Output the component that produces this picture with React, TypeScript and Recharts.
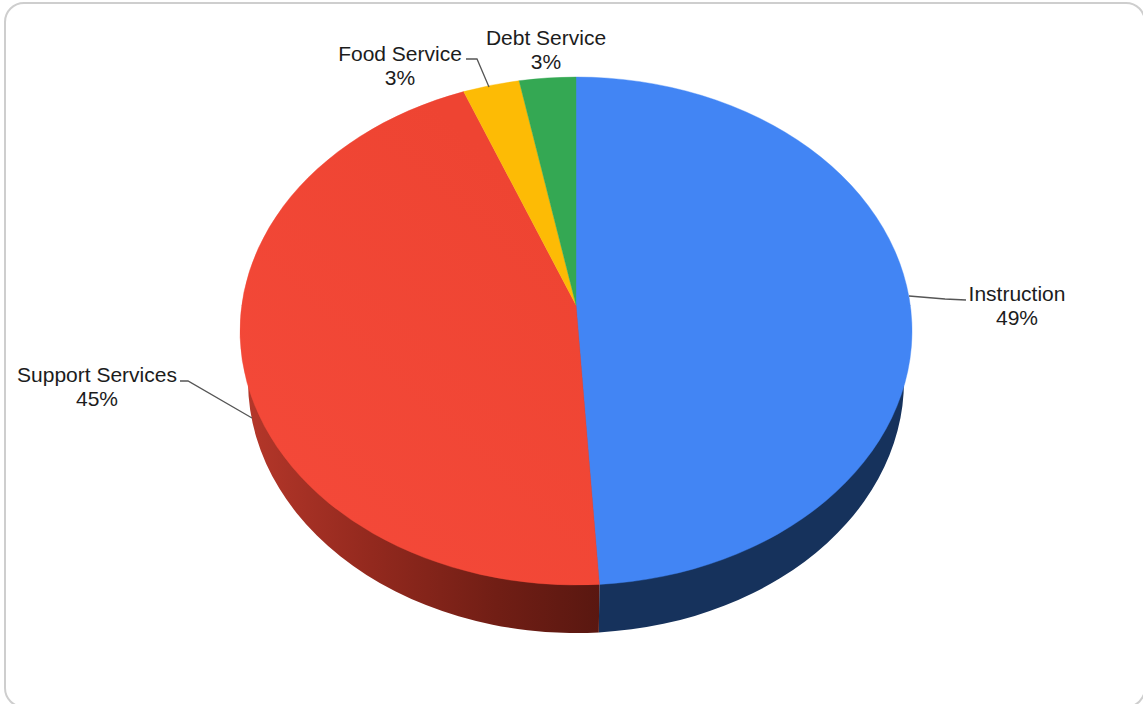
import React from 'react';
import { PieChart, Pie } from 'recharts';

const categories = ['Instruction', 'Support Services', 'Food Service', 'Debt Service'];
const shares = [49, 45, 3, 3];

const faceFills = ['#4285f4', 'url(#supportFace)', '#fdbb05', '#34a853'];
const wallFills = ['#16325c', 'url(#supportWall)', '#7d5e02', '#1a5429'];

// where each label sits, plus its leader line if it has one
const labelLayout = [
  { x: 1017, y: 301, leader: [[909, 296], [945, 299], [966, 300]] },
  { x: 97, y: 382, leader: [[180, 381], [188, 381], [252, 418]] },
  { x: 400, y: 61, leader: [[466, 59], [477, 59], [489, 87]] },
  { x: 546, y: 45, leader: null },
];

const pieData = categories.map((name, i) => ({ name, value: shares[i] }));

const WIDTH = 1143;
const HEIGHT = 704;
const CX = 576;
const CY = 331;
const RADIUS = 336;
const FACE_RY = 254;

// bottom rim of the disc, a little narrower than the top because of the perspective
const RIM_RX = 328;
const RIM_RY = 252;
const RIM_CY = 381;

// the tilted disc's centre appears above the middle of its ellipse
const APEX_SHIFT = -26 / FACE_RY;

const rad = (deg: number) => (deg * Math.PI) / 180;

// projects a point of the flat circle onto the tilted ellipse
const onEllipse = (cy: number, rx: number, ry: number, deg: number) => {
  const u = Math.cos(rad(deg));
  const v = -Math.sin(rad(deg));
  const w = 1 + v * APEX_SHIFT;
  return {
    x: CX + (rx * u * Math.sqrt(1 - APEX_SHIFT * APEX_SHIFT)) / w,
    y: cy + (ry * (v + APEX_SHIFT)) / w,
  };
};

const APEX_Y = CY + FACE_RY * APEX_SHIFT;

const indexOfSector = (props: any) => categories.indexOf(props.name ?? props.payload?.name);

// top face: an ordinary sector squashed into an ellipse
const FaceSector = (props: any) => {
  const { outerRadius, startAngle, endAngle } = props;
  const a = onEllipse(CY, outerRadius, FACE_RY, startAngle);
  const b = onEllipse(CY, outerRadius, FACE_RY, endAngle);
  const large = Math.abs(startAngle - endAngle) > 180 ? 1 : 0;
  const fill = faceFills[indexOfSector(props)];
  return (
    <path
      d={`M${CX},${APEX_Y} L${a.x},${a.y} A${outerRadius},${FACE_RY} 0 ${large} 1 ${b.x},${b.y} Z`}
      fill={fill}
      stroke={fill}
      strokeWidth={0.4}
    />
  );
};

// side wall: only the part of a sector that faces the viewer (angles -180..0)
const WallSector = (props: any) => {
  const { outerRadius, startAngle, endAngle } = props;
  const hi = Math.min(startAngle, 0);
  const lo = Math.max(endAngle, -180);
  if (hi <= lo) return null;
  const topA = onEllipse(CY, outerRadius, FACE_RY, hi);
  const topB = onEllipse(CY, outerRadius, FACE_RY, lo);
  const rimA = onEllipse(RIM_CY, RIM_RX, RIM_RY, hi);
  const rimB = onEllipse(RIM_CY, RIM_RX, RIM_RY, lo);
  const fill = wallFills[indexOfSector(props)];
  return (
    <path
      d={`M${CX},${APEX_Y} L${topA.x},${topA.y} L${rimA.x},${rimA.y} A${RIM_RX},${RIM_RY} 0 0 1 ${rimB.x},${rimB.y} L${topB.x},${topB.y} Z`}
      fill={fill}
    />
  );
};

const SliceLabel = (props: any) => {
  const i = indexOfSector(props);
  const spot = labelLayout[i];
  const style = { fontFamily: '"Liberation Sans", Arial, sans-serif', fontSize: 21, fill: '#1c1c1c' };
  return (
    <g>
      {spot.leader && (
        <polyline
          points={spot.leader.map((p) => p.join(',')).join(' ')}
          fill="none"
          stroke="#555"
          strokeWidth={1.3}
        />
      )}
      <text x={spot.x} y={spot.y} textAnchor="middle" style={style}>
        {categories[i]}
      </text>
      <text x={spot.x} y={spot.y + 24} textAnchor="middle" style={style}>
        {`${shares[i]}%`}
      </text>
    </g>
  );
};

export default function App() {
  return (
    <div
      style={{
        position: 'absolute',
        left: 0,
        top: 0,
        width: WIDTH,
        height: HEIGHT,
        overflow: 'hidden',
        background: '#fff',
      }}
    >
      {/* card outline, its right and bottom sides run off the page */}
      <div
        style={{
          position: 'absolute',
          left: 4,
          top: 2,
          width: 1142,
          height: 706,
          boxSizing: 'border-box',
          border: '2px solid #cecece',
          borderRadius: 20,
        }}
      />
      <div style={{ position: 'absolute', left: 0, top: 0 }}>
        <PieChart width={WIDTH} height={HEIGHT} margin={{ top: 0, right: 0, bottom: 0, left: 0 }}>
          <defs>
            <linearGradient id="supportWall" gradientUnits="userSpaceOnUse" x1={245} y1={0} x2={605} y2={0}>
              <stop offset="0" stopColor="#b5372a" />
              <stop offset="0.35" stopColor="#93291e" />
              <stop offset="0.7" stopColor="#711e15" />
              <stop offset="1" stopColor="#581710" />
            </linearGradient>
            <linearGradient id="supportFace" gradientUnits="userSpaceOnUse" x1={280} y1={520} x2={560} y2={220}>
              <stop offset="0" stopColor="#f44939" />
              <stop offset="1" stopColor="#ee4432" />
            </linearGradient>
          </defs>
          <Pie
            data={pieData}
            dataKey="value"
            nameKey="name"
            cx={CX}
            cy={CY}
            outerRadius={RADIUS}
            startAngle={90}
            endAngle={-270}
            stroke="none"
            shape={WallSector}
            isAnimationActive={false}
          />
          <Pie
            data={pieData}
            dataKey="value"
            nameKey="name"
            cx={CX}
            cy={CY}
            outerRadius={RADIUS}
            startAngle={90}
            endAngle={-270}
            stroke="none"
            shape={FaceSector}
            label={SliceLabel}
            labelLine={false}
            isAnimationActive={false}
          />
        </PieChart>
      </div>
    </div>
  );
}
